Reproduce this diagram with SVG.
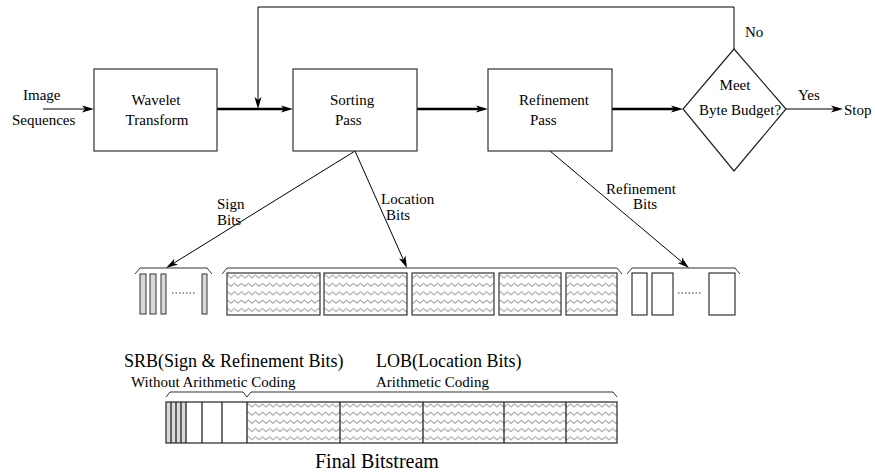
<svg xmlns="http://www.w3.org/2000/svg" width="875" height="472" viewBox="0 0 875 472" font-family="'Liberation Serif', 'Times New Roman', serif">
<style>
text{font-family:'Liberation Serif','Times New Roman',serif;fill:#000}
.t15{font-size:15px}
.t18{font-size:18px}
.t20{font-size:20px}
.box{fill:#fff;stroke:#333;stroke-width:1.2}
.bar{fill:#d9d9d9;stroke:#333;stroke-width:1}
.wbox{fill:url(#zz1);stroke:#333;stroke-width:1.2}
.thin{fill:none;stroke:#000;stroke-width:1}
.thick{fill:none;stroke:#000;stroke-width:2.5}
.brk{fill:none;stroke:#333;stroke-width:1}
.dots{fill:none;stroke:#333;stroke-width:1;stroke-dasharray:1.5 2}
.div{stroke:#222;stroke-width:1.3}
</style>
<defs>
<marker id="ah" viewBox="-13 -4 14 8" refX="-6" refY="0" markerWidth="14" markerHeight="8" markerUnits="userSpaceOnUse" orient="auto">
<path d="M0,0 L-12,-3.5 L-9,0 L-12,3.5 Z" fill="#000"/>
</marker>
<pattern id="zz1" patternUnits="userSpaceOnUse" x="0" y="273" width="7" height="8.4">
<path d="M-0.5,5.4 L0,5 L3.5,2 L7,5 L7.5,5.4" fill="none" stroke="#666" stroke-width="0.9"/>
</pattern>
<pattern id="zz2" patternUnits="userSpaceOnUse" x="0" y="402" width="7" height="8.2">
<path d="M-0.5,5.4 L0,5 L3.5,2 L7,5 L7.5,5.4" fill="none" stroke="#666" stroke-width="0.9"/>
</pattern>
</defs>
<rect width="875" height="472" fill="#fff"/>

<g id="connectors">
<line class="thin" x1="43" y1="109" x2="88" y2="109" marker-end="url(#ah)"/>
<line class="thick" x1="217" y1="109" x2="287" y2="109" marker-end="url(#ah)"/>
<line class="thick" x1="417" y1="109" x2="482" y2="109" marker-end="url(#ah)"/>
<line class="thick" x1="612" y1="109" x2="677" y2="109" marker-end="url(#ah)"/>
<path class="thin" d="M734,49 L734,7 L258,7 L258,103" marker-end="url(#ah)"/>
<line class="thin" x1="786" y1="109" x2="837" y2="109" marker-end="url(#ah)"/>
<line class="thin" x1="355" y1="151" x2="171.1" y2="264.8" marker-end="url(#ah)"/>
<line class="thin" x1="355" y1="151" x2="404.6" y2="262.5" marker-end="url(#ah)"/>
<line class="thin" x1="550" y1="151" x2="684.4" y2="264.1" marker-end="url(#ah)"/>
</g>

<g id="labels" font-family="'Liberation Serif', 'Times New Roman', serif">
<text class="t15" x="23" y="100">Image</text>
<text class="t15" x="12" y="125">Sequences</text>
<text class="t15" x="745" y="37">No</text>
<text class="t15" x="798" y="100">Yes</text>
<text class="t15" x="844" y="115">Stop</text>
<text class="t15" x="217" y="209">Sign</text>
<text class="t15" x="217" y="225">Bits</text>
<text class="t15" x="381" y="204">Location</text>
<text class="t15" x="386" y="220">Bits</text>
<text class="t15" x="606" y="194">Refinement</text>
<text class="t15" x="633" y="209">Bits</text>
</g>

<g id="wavelet">
<rect class="box" x="94" y="69" width="123" height="82"/>
<text class="t15" x="156" y="105" text-anchor="middle">Wavelet</text>
<text class="t15" x="157" y="125" text-anchor="middle">Transform</text>
</g>

<g id="sorting">
<rect class="box" x="293" y="69" width="124" height="82"/>
<text class="t15" x="330" y="105">Sorting</text>
<text class="t15" x="335" y="125">Pass</text>
</g>

<g id="refinement">
<rect class="box" x="488" y="69" width="124" height="82"/>
<text class="t15" x="519" y="105">Refinement</text>
<text class="t15" x="530" y="125">Pass</text>
</g>

<g id="decision">
<polygon points="734,49 786,109 734,171 683,109" fill="#fff" stroke="#222" stroke-width="1.2"/>
<text class="t15" x="735" y="90" text-anchor="middle">Meet</text>
<text class="t15" x="699" y="115">Byte Budget?</text>
</g>

<g id="sign-bits">
<path class="brk" d="M135,274 L140,268 L207,268 L212,274"/>
<rect class="bar" x="140" y="274" width="6" height="40"/>
<rect class="bar" x="150" y="274" width="6" height="40"/>
<rect class="bar" x="161" y="274" width="5" height="40"/>
<line class="dots" x1="172" y1="293" x2="195" y2="293"/>
<rect class="bar" x="202" y="274" width="5" height="40"/>
</g>

<g id="location-bits">
<path class="brk" d="M222,274 L227,268 L617,268 L622,274"/>
<rect class="wbox" x="227" y="273" width="93" height="42"/>
<rect class="wbox" x="324" y="273" width="83" height="42"/>
<rect class="wbox" x="412" y="273" width="82" height="42"/>
<rect class="wbox" x="499" y="273" width="62" height="42"/>
<rect class="wbox" x="566" y="273" width="51" height="42"/>
</g>

<g id="refinement-bits">
<path class="brk" d="M627,274 L632,268 L735,268 L740,274"/>
<rect class="box" x="632" y="273" width="15" height="42"/>
<rect class="box" x="652" y="273" width="21" height="42"/>
<line class="dots" x1="678" y1="293" x2="702" y2="293"/>
<rect class="box" x="709" y="273" width="26" height="42"/>
</g>

<g id="bitstream">
<text class="t18" x="124" y="367">SRB(Sign &amp; Refinement Bits)</text>
<text class="t15" x="131" y="387">Without Arithmetic Coding</text>
<text class="t18" x="376" y="367">LOB(Location Bits)</text>
<text class="t15" x="376" y="387">Arithmetic Coding</text>
<path class="brk" d="M166,397 L170,392 L243,392 L247,397 L251,392 L613,392 L617,397"/>
<rect x="166" y="402" width="20" height="41" fill="#d9d9d9"/>
<rect x="247" y="402" width="370" height="41" fill="url(#zz2)"/>
<rect x="166" y="402" width="451" height="41" fill="none" stroke="#333" stroke-width="1.3"/>
<line class="div" x1="171" y1="402" x2="171" y2="443"/>
<line class="div" x1="176" y1="402" x2="176" y2="443"/>
<line class="div" x1="181" y1="402" x2="181" y2="443"/>
<line class="div" x1="186" y1="402" x2="186" y2="443"/>
<line class="div" x1="202" y1="402" x2="202" y2="443"/>
<line class="div" x1="222" y1="402" x2="222" y2="443"/>
<line class="div" x1="247" y1="402" x2="247" y2="443"/>
<line class="div" x1="340" y1="402" x2="340" y2="443"/>
<line class="div" x1="423" y1="402" x2="423" y2="443"/>
<line class="div" x1="504" y1="402" x2="504" y2="443"/>
<line class="div" x1="566" y1="402" x2="566" y2="443"/>
<text class="t20" x="315" y="468">Final Bitstream</text>
</g>
</svg>
